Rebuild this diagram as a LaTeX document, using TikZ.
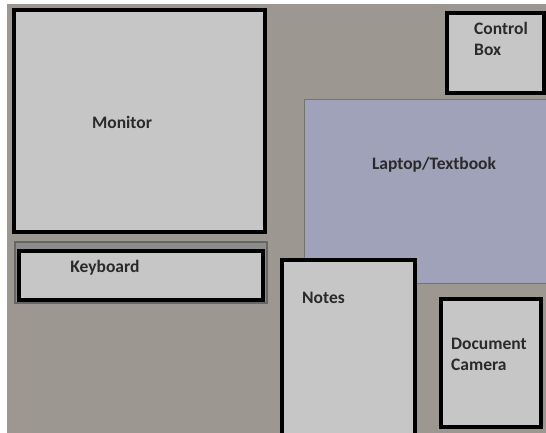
\documentclass[tikz,border=0pt]{standalone}
\usepackage{fontspec}
\setmainfont{Carlito}
\usepackage{xcolor}
\usepackage{tikz}
\usetikzlibrary{positioning}

\definecolor{deskgray}{HTML}{9C9891}
\definecolor{boxgray}{HTML}{C6C6C6}
\definecolor{laptopblue}{HTML}{A0A2BA}
\definecolor{textdark}{HTML}{2A2A2A}

\begin{document}
\begin{tikzpicture}[
    x=1pt, y=-1pt,
    item/.style = {
        rectangle,
        draw=black,
        line width=3.6pt,
        fill=boxgray,
        inner sep=0pt
    },
    flat_item/.style = {
        rectangle,
        draw=black!55,
        line width=1pt,
        fill=laptopblue,
        inner sep=0pt
    },
    tag/.style = {
        text=textdark,
        font=\fontsize{17.5}{21}\selectfont\bfseries,
        inner sep=0pt,
        align=left
    }
]

    % Desk surface
    \useasboundingbox (0,0) rectangle (546,433);
    \fill [white] (0,0) rectangle (546,433);
    \fill [deskgray] (7,4) rectangle (546,433);

    % Node Definitions
    \node [item, minimum width=251pt, minimum height=222pt, anchor=north west] (monitor) at (12,8) {};
    \node [tag] (monitor_lbl) at (122,122) {Monitor};

    \node [rectangle, draw=black!60, line width=1.5pt, fill=black!45, inner sep=0pt,
           minimum width=252pt, minimum height=61pt, anchor=north west] (kb_tray) at (14,241) {};
    \node [item, minimum width=244pt, minimum height=49pt, anchor=north west] (keyboard) at (17,249) {};
    \node [tag] (keyboard_lbl) at (105,268) {Keyboard};

    \node [item, minimum width=97pt, minimum height=80pt, anchor=north west] (ctrl_box) at (445,11) {};
    \node [tag, anchor=north west] (ctrl_lbl) at (474,22) {Control\\Box};

    \node [flat_item, minimum width=250pt, minimum height=184pt, anchor=north west] (laptop) at (304,99) {};
    \node [tag] (laptop_lbl) at (434,165) {Laptop/Textbook};

    \node [item, minimum width=133pt, minimum height=185pt, anchor=north west] (notes) at (280,258) {};
    \node [tag, anchor=north west] (notes_lbl) at (302,292) {Notes};

    \node [item, minimum width=100pt, minimum height=128pt, anchor=north west] (doc_cam) at (439,297) {};
    \node [tag, anchor=north west] (doc_cam_lbl) at (451,338) {Document\\Camera};

\end{tikzpicture}
\end{document}
